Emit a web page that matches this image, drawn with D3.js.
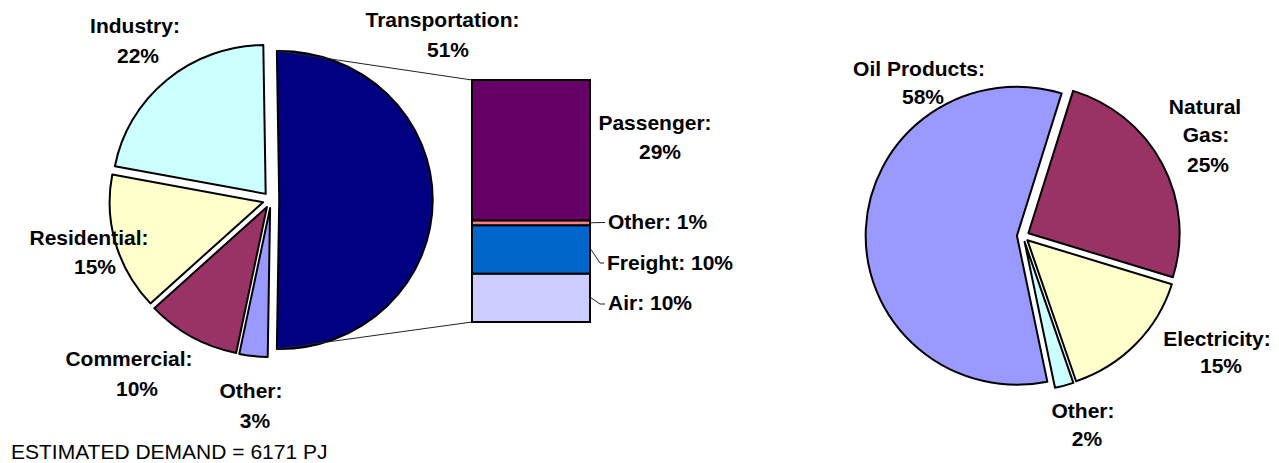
<!DOCTYPE html>
<html>
<head>
<meta charset="utf-8">
<script src="https://cdn.jsdelivr.net/npm/d3@7"></script>
<style>
  html, body { margin: 0; padding: 0; background: #fff; }
  svg { display: block; }
  text { font-family: Arial, "Liberation Sans", sans-serif; fill: #000; }
</style>
</head>
<body>
<svg id="chart" width="1279" height="463"></svg>
<script>
// Final energy demand by sector
const demandCats   = ["Transportation", "Other", "Commercial", "Residential", "Industry"];
const demandVals   = [51, 3, 10, 15, 22];
const demandColors = ["#000080", "#9999FF", "#993366", "#FFFFCC", "#CCFFFF"];

// Breakdown of transportation demand (stacked bottom to top)
const transportCats   = ["Air", "Freight", "Other", "Passenger"];
const transportVals   = [10, 10, 1, 29];
const transportColors = ["#CCCCFF", "#0066CC", "#FF8080", "#660066"];

// Demand by fuel
const fuelCats   = ["Natural Gas", "Electricity", "Other", "Oil Products"];
const fuelVals   = [25, 15, 2, 58];
const fuelColors = ["#993366", "#FFFFCC", "#CCFFFF", "#9999FF"];

const demandTotal = 6171;
const demandUnit  = "PJ";

const svg = d3.select("#chart");
const deg = Math.PI / 180;

// Draws an exploded pie; returns the arcs so callers can attach extra marks.
function drawPie(cats, vals, colors, opt) {
  const pie = d3.pie().sort(null).value(d => d.v)
    .startAngle(opt.start).endAngle(opt.start + 2 * Math.PI);
  const arcs = pie(cats.map((c, i) => ({ c, v: vals[i], col: colors[i] })));
  const arc = d3.arc().innerRadius(0).outerRadius(opt.r);
  const g = svg.append("g")
    .attr("transform", `translate(${opt.cx},${opt.cy}) scale(${opt.sx},1)`);
  g.selectAll("path").data(arcs).join("path")
    .attr("transform", d => {
      const m = (d.startAngle + d.endAngle) / 2;
      return `translate(${Math.sin(m) * opt.explode},${-Math.cos(m) * opt.explode})`;
    })
    .attr("d", arc)
    .attr("fill", d => d.data.col)
    .attr("stroke", "#000")
    .attr("stroke-width", 2)
    .attr("stroke-linejoin", "round")
    .attr("vector-effect", "non-scaling-stroke");
  return arcs;
}

// ---- Left pie: demand by sector ----
const leftPie = { cx: 271, cy: 200, r: 149, sx: 1.03, explode: 8 };
const demandSum = d3.sum(demandVals);
const transSpan = demandVals[0] / demandSum * 2 * Math.PI;
leftPie.start = Math.PI / 2 - transSpan / 2;   // transportation centred on the right
const leftArcs = drawPie(demandCats, demandVals, demandColors, leftPie);

// ---- Bar: transportation breakdown ----
const bar = { x0: 472, x1: 590, top: 80, bottom: 322 };
const y = d3.scaleLinear().domain([0, d3.sum(transportVals)]).range([bar.bottom, bar.top]);
let acc = 0;
const stack = transportVals.map((v, i) => {
  const s = { c: transportCats[i], v, col: transportColors[i], y0: acc, y1: acc + v };
  acc += v;
  return s;
});

// connector lines from the transportation slice to the bar
const t = leftArcs[0];
function slicePoint(a) {
  const m = (t.startAngle + t.endAngle) / 2;
  const ex = leftPie.cx + (Math.sin(m) * leftPie.explode + Math.sin(a) * leftPie.r) * leftPie.sx;
  const ey = leftPie.cy - Math.cos(m) * leftPie.explode - Math.cos(a) * leftPie.r;
  return [ex, ey];
}
const pTop = slicePoint(t.startAngle), pBot = slicePoint(t.endAngle);
svg.append("line").attr("x1", pTop[0]).attr("y1", pTop[1]).attr("x2", bar.x0).attr("y2", y(acc))
  .attr("stroke", "#222").attr("stroke-width", 1);
svg.append("line").attr("x1", pBot[0]).attr("y1", pBot[1]).attr("x2", bar.x0).attr("y2", y(0))
  .attr("stroke", "#222").attr("stroke-width", 1);

svg.append("g").selectAll("rect").data(stack).join("rect")
  .attr("x", bar.x0).attr("width", bar.x1 - bar.x0)
  .attr("y", d => y(d.y1)).attr("height", d => y(d.y0) - y(d.y1))
  .attr("fill", d => d.col)
  .attr("stroke", "#000").attr("stroke-width", 2);

// ---- Right pie: demand by fuel ----
const rightPie = { cx: 1023, cy: 236, r: 149, sx: 1.015, explode: 6, start: 17.2 * deg };
drawPie(fuelCats, fuelVals, fuelColors, rightPie);

// ---- Labels ----
const labelFont = { size: 21, weight: "bold" };
function multiLabel(lines, anchors) {
  const g = svg.append("g");
  lines.forEach((txt, i) => {
    g.append("text")
      .attr("x", anchors[i][0]).attr("y", anchors[i][1])
      .attr("text-anchor", "middle")
      .attr("font-size", labelFont.size).attr("font-weight", labelFont.weight)
      .text(txt);
  });
}
const pct = v => `${v}%`;

// sector pie labels
const sectorAnchors = {
  "Transportation": [[442.5, 27], [448, 57]],
  "Industry":       [[135, 33], [138, 63]],
  "Residential":    [[89, 245], [95, 274]],
  "Commercial":     [[129, 366], [137, 396]],
  "Other":          [[251, 398], [255, 428]]
};
demandCats.forEach((c, i) => multiLabel([c + ":", pct(demandVals[i])], sectorAnchors[c]));

// bar labels
const passenger = stack.find(s => s.c === "Passenger");
multiLabel([passenger.c + ":", pct(passenger.v)], [[655, 130], [660, 159]]);

const leaderText = {
  "Other":   { x: 608, y: 229, elbow: [603, 222.5] },
  "Freight": { x: 607, y: 270, elbow: [600, 263] },
  "Air":     { x: 608, y: 310, elbow: [600, 304] }
};
stack.filter(s => leaderText[s.c]).forEach(s => {
  const L = leaderText[s.c];
  const ym = y((s.y0 + s.y1) / 2);
  svg.append("polyline")
    .attr("points", `${bar.x1 + 1},${ym} ${L.elbow[0]},${L.elbow[1]} ${L.x - 3},${L.elbow[1]}`)
    .attr("fill", "none").attr("stroke", "#222").attr("stroke-width", 1);
  svg.append("text")
    .attr("x", L.x).attr("y", L.y)
    .attr("font-size", labelFont.size).attr("font-weight", labelFont.weight)
    .text(`${s.c}: ${pct(s.v)}`);
});

// fuel pie labels
const fuelAnchors = {
  "Oil Products": { lines: n => [n + ":"], pos: [[919, 76], [923, 104]] },
  "Natural Gas":  { lines: n => { const w = n.split(" "); return [w[0], w[1] + ":"]; },
                    pos: [[1205, 114], [1206, 142], [1208, 172]] },
  "Electricity":  { lines: n => [n + ":"], pos: [[1217, 346], [1221, 373]] },
  "Other":        { lines: n => [n + ":"], pos: [[1083, 418], [1087, 446]] }
};
fuelCats.forEach((c, i) => {
  const a = fuelAnchors[c];
  multiLabel([...a.lines(c), pct(fuelVals[i])], a.pos);
});

// footer
svg.append("text")
  .attr("x", 11).attr("y", 459)
  .attr("font-size", 21)
  .text(`ESTIMATED DEMAND = ${demandTotal} ${demandUnit}`);
</script>
</body>
</html>
